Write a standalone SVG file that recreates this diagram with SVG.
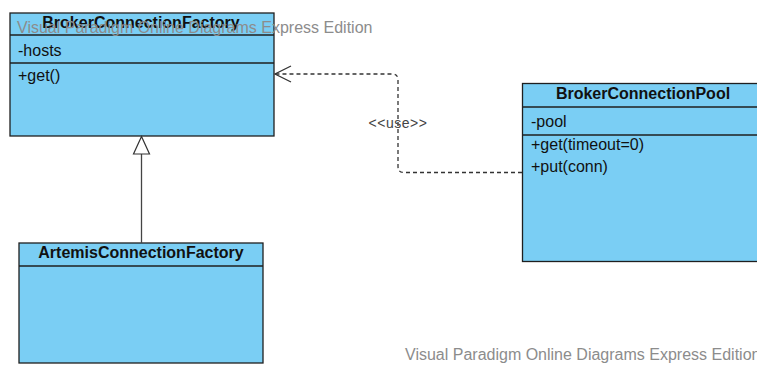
<svg xmlns="http://www.w3.org/2000/svg" width="757" height="365" viewBox="0 0 757 365">
<style>
.box{fill:#7acef4;stroke:#1f1f1f;stroke-width:1.3}
.sep{stroke:#1f1f1f;stroke-width:1.3}
.title{font-family:"Liberation Sans",Arial,sans-serif;font-size:16px;font-weight:bold;fill:#111;text-anchor:middle}
.member{font-family:"Liberation Sans",Arial,sans-serif;font-size:16px;fill:#111}
.wm{font-family:"Liberation Sans",Arial,sans-serif;font-size:16px;fill:#8c8c8c}
.lbl{font-family:"Liberation Sans",Arial,sans-serif;font-size:14px;letter-spacing:0.5px;fill:#444;text-anchor:middle}
</style>
<rect width="757" height="365" fill="#fff"/>
<g id="BrokerConnectionFactory">
<rect class="box" x="10" y="13" width="264" height="123"/>
<line class="sep" x1="10" y1="35" x2="274" y2="35"/>
<line class="sep" x1="10" y1="63" x2="274" y2="63"/>
<text class="title" x="141" y="28">BrokerConnectionFactory</text>
<text class="member" x="18" y="56">-hosts</text>
<text class="member" x="18" y="81">+get()</text>
</g>
<g id="ArtemisConnectionFactory">
<rect class="box" x="19" y="243" width="244" height="120"/>
<line class="sep" x1="19" y1="266" x2="263" y2="266"/>
<text class="title" x="141" y="258">ArtemisConnectionFactory</text>
</g>
<g id="BrokerConnectionPool">
<rect class="box" x="522.5" y="83.5" width="240" height="178"/>
<line class="sep" x1="522.5" y1="107" x2="762" y2="107"/>
<line class="sep" x1="522.5" y1="135" x2="762" y2="135"/>
<text class="title" x="643" y="99">BrokerConnectionPool</text>
<text class="member" x="531" y="127">-pool</text>
<text class="member" x="531" y="150">+get(timeout=0)</text>
<text class="member" x="531" y="172">+put(conn)</text>
</g>
<g id="connectors" fill="none">
<line x1="141.5" y1="243" x2="141.5" y2="154" stroke="#444" stroke-width="1.3"/>
<polygon points="141.5,136.5 133.5,154 149.5,154" fill="#fff" stroke="#333" stroke-width="1.2"/>
<path d="M522,172.5 H404 Q398,172.5 398,166.5 V80 Q398,74 392,74 H275" stroke="#333" stroke-width="1.3" stroke-dasharray="4,3"/>
<polyline points="291,66 275,74 291,82" stroke="#333" stroke-width="1.3"/>
<text class="lbl" x="398" y="128">&lt;&lt;use&gt;&gt;</text>
</g>
<text class="wm" x="17" y="33">Visual Paradigm Online Diagrams Express Edition</text>
<text class="wm" x="405" y="360">Visual Paradigm Online Diagrams Express Edition</text>
</svg>
